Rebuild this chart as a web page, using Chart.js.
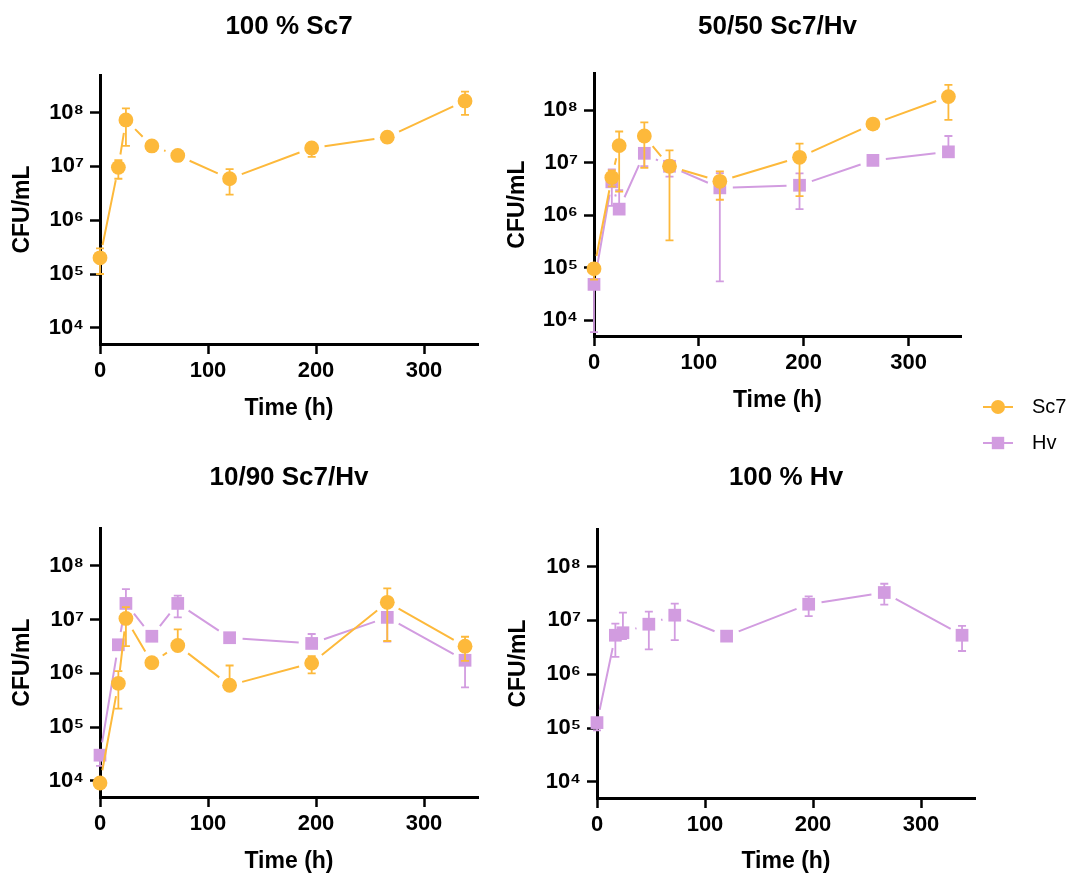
<!DOCTYPE html>
<html><head><meta charset="utf-8">
<script src="https://cdn.jsdelivr.net/npm/chart.js@4.4.1/dist/chart.umd.min.js"></script>
<style>
html,body{margin:0;padding:0;background:#fff;}
body{width:1074px;height:877px;position:relative;overflow:hidden;}
canvas{position:absolute;display:block;}
</style></head><body>
<canvas id="c1" width="490" height="440" style="left:0;top:0"></canvas>
<canvas id="c2" width="475" height="440" style="left:495px;top:0"></canvas>
<canvas id="c3" width="490" height="427" style="left:0;top:450px"></canvas>
<canvas id="c4" width="490" height="427" style="left:495px;top:450px"></canvas>
<canvas id="cl" width="107" height="90" style="left:967px;top:381px"></canvas>
<script>
// ---- data ----
const times = [0, 17, 24, 48, 72, 120, 196, 266, 338];
const xTicks = [0, 100, 200, 300];
const yTicks = [1e4, 1e5, 1e6, 1e7, 1e8];

// 100 % Sc7
const a_sc7    = [2.0e5, 9.6e6, 7.3e7, 2.4e7, 1.6e7, 5.9e6, 2.2e7, 3.5e7, 1.65e8];
const a_sc7_lo = [1.0e5, 5.9e6, 2.4e7, 2.1e7, 1.26e7, 3.0e6, 1.5e7, 2.8e7, 9.1e7];
const a_sc7_hi = [3.0e5, 1.3e7, 1.2e8, 2.7e7, 1.9e7, 8.9e6, 2.6e7, 4.0e7, 2.45e8];

// 50/50 Sc7/Hv
const b_sc7    = [9.5e4, 5.2e6, 2.1e7, 3.2e7, 8.5e6, 4.4e6, 1.26e7, 5.4e7, 1.8e8];
const b_sc7_lo = [5.9e4, 3.5e6, 2.8e6, 7.9e6, 3.3e5, 1.96e6, 2.3e6, 4.8e7, 6.5e7];
const b_sc7_hi = [1.2e5, 7.1e6, 3.9e7, 5.8e7, 1.7e7, 6.8e6, 2.3e7, 6.0e7, 3.0e8];
const b_hv     = [4.8e4, 4.3e6, 1.3e6, 1.5e7, 8.5e6, 3.3e6, 3.7e6, 1.1e7, 1.6e7];
const b_hv_lo  = [5.9e3, 1.5e6, 1.1e6, 8.5e6, 5.4e6, 5.5e4, 1.3e6, 1.0e7, 1.5e7];
const b_hv_hi  = [5.9e4, 7.4e6, 3.0e6, 1.9e7, 1.1e7, 6.3e6, 6.2e6, 1.2e7, 3.2e7];

// 10/90 Sc7/Hv
const c_sc7    = [9.1e3, 6.5e5, 1.05e7, 1.58e6, 3.3e6, 6.0e5, 1.55e6, 2.1e7, 3.2e6];
const c_sc7_lo = [8.0e3, 2.2e5, 3.2e6, 1.4e6, 2.8e6, 5.5e5, 1.0e6, 4.0e6, 1.7e6];
const c_sc7_hi = [1.0e4, 1.1e6, 1.7e7, 1.8e6, 6.6e6, 1.4e6, 2.1e6, 3.8e7, 4.8e6];
const c_hv     = [3.0e4, 3.4e6, 2.0e7, 4.9e6, 2.0e7, 4.6e6, 3.6e6, 1.1e7, 1.75e6];
const c_hv_lo  = [1.9e4, 3.0e6, 1.2e7, 4.5e6, 1.1e7, 4.2e6, 3.2e6, 3.9e6, 5.5e5];
const c_hv_hi  = [3.5e4, 3.8e6, 3.7e7, 5.3e6, 2.8e7, 5.0e6, 5.4e6, 1.3e7, 2.1e6];

// 100 % Hv
const d_hv     = [1.26e5, 5.3e6, 5.9e6, 8.5e6, 1.25e7, 5.1e6, 2.0e7, 3.3e7, 5.3e6];
const d_hv_lo  = [9.0e4, 2.1e6, 4.5e6, 2.9e6, 4.3e6, 4.7e6, 1.2e7, 1.96e7, 2.7e6];
const d_hv_hi  = [1.5e5, 8.7e6, 1.4e7, 1.45e7, 2.05e7, 5.5e6, 2.8e7, 4.8e7, 7.9e6];

// ---- styling ----
const ORANGE = '#FDB93B', PURPLE = '#D29CE0';
const FONT = "'Liberation Sans', Arial, Helvetica, sans-serif";
const SUP = {'4':'\u2074','5':'\u2075','6':'\u2076','7':'\u2077','8':'\u2078'};

const errPlugin = {
  id: 'errLines',
  beforeDatasetDraw(chart, args) {
    const ds = chart.data.datasets[args.index];
    if (!ds.errLo) return;
    const pts = args.meta.data;
    const ys = chart.scales.y;
    const ctx = chart.ctx;
    ctx.save();
    ctx.strokeStyle = ds.borderColor;
    ctx.lineWidth = 2;
    const gap = 13;
    ctx.beginPath();
    for (let i = 0; i < pts.length - 1; i++) {
      const a = pts[i], b = pts[i + 1];
      const dx = b.x - a.x, dy = b.y - a.y, d = Math.hypot(dx, dy);
      if (d <= 2 * gap + 1) continue;
      const ux = dx / d, uy = dy / d;
      ctx.moveTo(a.x + ux * gap, a.y + uy * gap);
      ctx.lineTo(b.x - ux * gap, b.y - uy * gap);
    }
    ctx.stroke();
    ctx.lineWidth = 1.8;
    ctx.beginPath();
    pts.forEach((p, i) => {
      const lo = ys.getPixelForValue(ds.errLo[i]);
      const hi = ys.getPixelForValue(ds.errHi[i]);
      ctx.moveTo(p.x, lo); ctx.lineTo(p.x, hi);
      ctx.moveTo(p.x - 4, lo); ctx.lineTo(p.x + 4, lo);
      ctx.moveTo(p.x - 4, hi); ctx.lineTo(p.x + 4, hi);
    });
    ctx.stroke();
    ctx.restore();
  }
};

function series(label, vals, lo, hi, color, style) {
  return {
    label,
    data: times.map((t, i) => ({x: t, y: vals[i]})),
    errLo: lo, errHi: hi,
    showLine: false,
    borderColor: color,
    backgroundColor: color,
    pointBackgroundColor: color,
    pointBorderColor: color,
    pointBorderWidth: 0,
    pointStyle: style,
    pointRadius: style === 'circle' ? 7.4 : 9,
    clip: false
  };
}

function panel(id, cfg) {
  return new Chart(document.getElementById(id), {
    type: 'line',
    data: {datasets: cfg.datasets},
    options: {
      responsive: false,
      animation: false,
      events: [],
      layout: {padding: {left: 0, right: cfg.padRight, top: 0, bottom: 0}},
      plugins: {
        legend: {display: false},
        tooltip: {enabled: false},
        title: {
          display: true, text: cfg.title, fullSize: false, color: '#000',
          font: {family: FONT, size: 26, weight: 'bold'},
          padding: {top: cfg.tTop, bottom: cfg.tBottom}
        }
      },
      scales: {
        x: {
          type: 'linear', min: 0, max: 350,
          afterBuildTicks: s => { s.ticks = xTicks.map(v => ({value: v})); },
          afterFit: s => { s.height = cfg.xH; },
          border: {display: true, color: '#000', width: 3},
          grid: {drawOnChartArea: false, drawTicks: true, tickLength: 10, tickWidth: 2.5, tickColor: '#000'},
          ticks: {color: '#000', font: {family: FONT, size: 22, weight: 'bold'}, padding: 4, maxRotation: 0, autoSkip: false},
          title: {display: true, text: 'Time (h)', color: '#000', font: {family: FONT, size: 23, weight: 'bold'}, padding: {top: 0, bottom: cfg.xtPad}}
        },
        y: {
          type: 'logarithmic', min: 5e3, max: 5e8,
          afterBuildTicks: s => { s.ticks = yTicks.map(v => ({value: v})); },
          afterFit: s => { s.width = cfg.yW; },
          border: {display: true, color: '#000', width: 3},
          grid: {drawOnChartArea: false, drawTicks: true, tickLength: 10, tickWidth: 2.5, tickColor: '#000'},
          ticks: {
            color: '#000', font: {family: FONT, size: 22, weight: 'bold'}, padding: 6, autoSkip: false,
            callback: v => '10' + SUP[String(Math.round(Math.log10(v)))]
          },
          title: {display: true, text: 'CFU/mL', color: '#000', font: {family: FONT, size: 23, weight: 'bold'}, padding: {top: cfg.ytPad, bottom: 0}}
        }
      }
    },
    plugins: [errPlugin]
  });
}

panel('c1', {
  title: '100 % Sc7', padRight: 12, tTop: 11.4, tBottom: 32.4, xH: 96, xtPad: 18, yW: 100, ytPad: 9,
  datasets: [series('Sc7', a_sc7, a_sc7_lo, a_sc7_hi, ORANGE, 'circle')]
});
panel('c2', {
  title: '50/50 Sc7/Hv', padRight: 5, tTop: 11.1, tBottom: 31, xH: 104, xtPad: 26, yW: 99, ytPad: 9,
  datasets: [
    series('Sc7', b_sc7, b_sc7_lo, b_sc7_hi, ORANGE, 'circle'),
    series('Hv', b_hv, b_hv_lo, b_hv_hi, PURPLE, 'rect')
  ]
});
panel('c3', {
  title: '10/90 Sc7/Hv', padRight: 12, tTop: 12.4, tBottom: 34.7, xH: 80, xtPad: 2, yW: 100, ytPad: 9,
  datasets: [
    series('Sc7', c_sc7, c_sc7_lo, c_sc7_hi, ORANGE, 'circle'),
    series('Hv', c_hv, c_hv_lo, c_hv_hi, PURPLE, 'rect')
  ]
});
panel('c4', {
  title: '100 % Hv', padRight: 10, tTop: 12.4, tBottom: 35.4, xH: 79, xtPad: 2, yW: 102, ytPad: 10,
  datasets: [series('Hv', d_hv, d_hv_lo, d_hv_hi, PURPLE, 'rect')]
});

// ---- legend ----
function legendSymbol(color, style) {
  const c = document.createElement('canvas');
  c.width = 39; c.height = 18;
  const g = c.getContext('2d');
  g.strokeStyle = color; g.lineWidth = 2;
  g.beginPath(); g.moveTo(0, 9); g.lineTo(30, 9); g.stroke();
  g.fillStyle = color;
  if (style === 'circle') { g.beginPath(); g.arc(15, 9, 7, 0, Math.PI * 2); g.fill(); }
  else { g.fillRect(8.8, 2.8, 12.4, 12.4); }
  return c;
}
new Chart(document.getElementById('cl'), {
  type: 'line',
  data: {datasets: [
    {label: 'Sc7', data: [], borderColor: ORANGE, backgroundColor: ORANGE, pointStyle: legendSymbol(ORANGE, 'circle')},
    {label: 'Hv', data: [], borderColor: PURPLE, backgroundColor: PURPLE, pointStyle: legendSymbol(PURPLE, 'rect')}
  ]},
  options: {
    responsive: false, animation: false, events: [],
    layout: {padding: 0},
    scales: {x: {display: false}, y: {display: false}},
    plugins: {
      tooltip: {enabled: false},
      legend: {
        display: true, position: 'top', align: 'start', maxHeight: 90,
        labels: {usePointStyle: true, pointStyleWidth: 39, padding: 16, color: '#000',
                 font: {family: FONT, size: 20, weight: 'normal'}}
      }
    }
  }
});
</script>
</body></html>
